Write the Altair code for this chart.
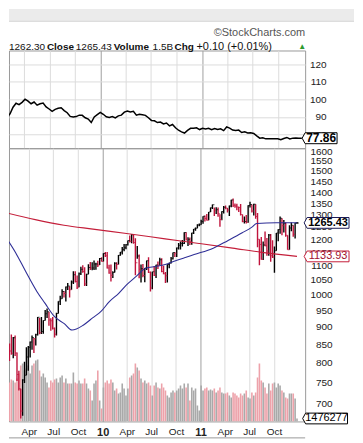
import altair as alt
import numpy as np
import pandas as pd

# ---------------- data ----------------
first_week = "2008-12-29"  # weekly bars, week start (Monday)

high_2009 = [934.7, 943.9, 888.9, 852.5, 877.9, 870.8, 875.0, 827.8, 780.1, 735.1, 758.3, 803.0, 842.6, 845.6,
             858.2, 875.6, 868.3, 880.4, 930.2, 926.6, 930.2, 920.0, 951.7, 956.2, 946.3, 926.0, 930.2, 898.7,
             943.0, 979.4, 996.7, 1018.0, 1012.8, 1027.6, 1039.5, 1028.5, 1048.2, 1080.2, 1080.2, 1065.0, 1076.0,
             1096.6, 1101.4, 1094.0, 1071.5, 1105.4, 1113.7, 1112.4, 1119.1, 1110.7, 1117.7, 1128.1, 1130.4]
low_2009 = [857.3, 883.0, 804.5, 804.9, 821.7, 812.8, 818.4, 754.3, 731.0, 666.8, 672.9, 749.0, 768.5, 779.8,
            814.5, 835.6, 826.8, 847.1, 875.0, 878.9, 879.6, 880.0, 919.1, 926.7, 903.8, 888.9, 893.0, 869.3,
            875.3, 940.4, 966.9, 987.5, 991.0, 978.5, 1016.2, 991.0, 1016.4, 1036.0, 1041.2, 1019.0, 1025.2,
            1066.6, 1074.6, 1029.4, 1029.4, 1069.3, 1085.0, 1083.7, 1085.0, 1085.9, 1095.4, 1102.5, 1115.0]
close_2009 = [931.8, 890.4, 850.1, 832.0, 825.9, 868.6, 826.8, 770.1, 735.1, 683.4, 756.6, 768.5, 815.9, 842.5,
              856.6, 869.6, 866.2, 877.5, 929.2, 882.9, 887.0, 919.1, 940.1, 946.2, 921.2, 918.9, 896.4, 879.1,
              940.4, 979.3, 987.5, 1010.5, 1004.1, 1026.1, 1028.9, 1016.4, 1042.7, 1068.3, 1044.4, 1025.2, 1071.5,
              1087.7, 1079.6, 1036.2, 1069.3, 1093.5, 1091.4, 1091.5, 1106.0, 1106.4, 1102.5, 1126.5, 1115.1]
vol_2009 = [15.0, 20.0, 20.5, 19.5, 21.0, 20.5, 19.5, 21.5, 24.0, 28.0, 29.0, 25.5, 26.5, 28.0, 24.0, 28.0, 29.0,
            30.5, 31.0, 25.5, 22.5, 24.0, 22.0, 19.5, 17.0, 20.5, 19.5, 21.0, 21.5, 19.5, 22.0, 23.0, 19.5, 21.5,
            19.0, 19.0, 19.0, 24.5, 19.5, 19.0, 20.5, 19.0, 19.0, 21.5, 19.0, 16.5, 15.5, 10.5, 19.0, 20.5, 25.5,
            10.5, 6.5]

high_2010 = [1145.4, 1150.4, 1150.5, 1103.7, 1104.7, 1080.0, 1112.4, 1112.4, 1139.0, 1150.2, 1169.8, 1180.7,
             1181.4, 1194.7, 1213.9, 1219.8, 1219.7, 1203.0, 1173.6, 1141.1, 1104.0, 1105.7, 1092.0, 1119.1,
             1131.2, 1078.9, 1078.0, 1099.1, 1103.7, 1115.0, 1129.2, 1127.3, 1100.1, 1077.6, 1105.1, 1110.9,
             1131.5, 1148.9, 1149.9, 1167.7, 1184.4, 1190.2, 1196.1, 1227.1, 1227.1, 1207.4, 1206.5, 1225.6,
             1240.4, 1246.7, 1259.4, 1262.6]
low_2010 = [1115.1, 1131.4, 1090.2, 1071.6, 1044.5, 1056.5, 1075.5, 1086.0, 1104.5, 1136.2, 1141.5, 1152.9,
            1161.2, 1175.2, 1186.8, 1183.6, 1181.6, 1065.8, 1125.0, 1055.9, 1040.8, 1058.9, 1042.2, 1085.0,
            1073.7, 1010.9, 1018.4, 1063.5, 1056.9, 1088.5, 1101.6, 1076.6, 1069.4, 1039.7, 1040.9, 1091.0,
            1108.0, 1122.3, 1131.9, 1131.9, 1159.7, 1159.7, 1171.7, 1181.0, 1194.1, 1173.0, 1176.8, 1177.7,
            1220.0, 1232.9, 1243.9, 1251.5]
close_2010 = [1145.0, 1136.0, 1091.8, 1073.9, 1066.2, 1075.5, 1109.2, 1104.5, 1138.7, 1150.0, 1159.9, 1166.6,
              1178.1, 1194.4, 1192.1, 1217.3, 1186.7, 1110.9, 1135.7, 1087.7, 1089.4, 1064.9, 1091.6, 1117.5,
              1076.8, 1022.6, 1078.0, 1064.9, 1102.7, 1101.6, 1121.6, 1079.3, 1071.7, 1064.6, 1104.5, 1109.6,
              1125.6, 1148.7, 1146.2, 1165.2, 1176.2, 1183.1, 1183.3, 1225.9, 1199.2, 1199.7, 1189.4, 1224.7,
              1240.4, 1243.9, 1256.8, 1257.6]
vol_2010 = [17.0, 19.5, 20.5, 19.0, 21.0, 19.5, 15.5, 16.5, 14.0, 14.5, 19.0, 16.5, 13.0, 16.5, 22.0, 23.0, 24.0,
            29.0, 27.0, 25.5, 21.5, 19.5, 20.5, 19.0, 19.5, 18.0, 13.0, 18.0, 19.5, 17.0, 16.5, 19.0, 17.0, 15.5,
            13.0, 12.0, 14.5, 15.5, 14.5, 15.5, 16.5, 18.0, 16.5, 19.0, 17.0, 19.0, 10.5, 17.0, 15.5, 16.5, 8.0,
            5.5]

high_2011 = [1278.2, 1293.2, 1296.1, 1302.7, 1311.0, 1330.8, 1344.1, 1331.0, 1332.3, 1330.9, 1302.0, 1315.0,
             1337.9, 1339.5, 1328.2, 1339.9, 1364.6, 1370.6, 1348.0, 1346.8, 1334.1, 1345.9, 1300.2, 1292.5,
             1298.6, 1340.3, 1356.5, 1343.8, 1347.0, 1345.0, 1307.4, 1199.4, 1208.5, 1190.7, 1230.7, 1204.4,
             1220.4, 1220.4, 1195.9, 1171.4, 1224.6, 1239.0, 1292.7, 1285.1, 1277.6, 1266.9, 1215.7, 1255.2,
             1267.1, 1255.2, 1265.4, 1269.4]
low_2011 = [1257.6, 1262.2, 1271.3, 1275.1, 1276.3, 1310.9, 1323.9, 1294.7, 1302.6, 1291.0, 1249.1, 1276.7,
            1305.3, 1322.9, 1309.7, 1294.7, 1331.7, 1332.6, 1329.2, 1318.5, 1311.8, 1296.8, 1268.2, 1262.4,
            1262.9, 1265.6, 1331.3, 1309.7, 1295.9, 1282.9, 1168.1, 1101.5, 1122.0, 1121.1, 1172.0, 1136.1,
            1136.2, 1114.2, 1127.7, 1074.8, 1155.5, 1191.5, 1221.1, 1215.4, 1226.6, 1209.4, 1158.7, 1158.7,
            1231.5, 1209.5, 1202.4, 1262.3]
close_2011 = [1271.5, 1293.2, 1283.4, 1276.3, 1310.9, 1329.2, 1343.0, 1319.9, 1321.2, 1304.3, 1279.2, 1313.8,
              1332.4, 1328.2, 1319.7, 1337.4, 1363.6, 1340.2, 1337.8, 1333.3, 1331.1, 1300.2, 1271.0, 1271.5,
              1268.5, 1339.7, 1343.8, 1316.1, 1345.0, 1292.3, 1199.4, 1178.8, 1123.5, 1176.8, 1174.0, 1154.2,
              1216.0, 1136.4, 1131.4, 1155.5, 1224.6, 1238.3, 1285.1, 1253.2, 1263.9, 1215.7, 1158.7, 1244.3,
              1255.2, 1219.7, 1265.3, 1265.43]
vol_2011 = [18.0, 15.5, 16.5, 17.0, 15.5, 16.0, 15.5, 16.5, 14.5, 15.5, 17.0, 14.5, 14.0, 14.0, 14.5, 13.0, 12.0,
            14.5, 14.0, 13.0, 12.0, 14.0, 13.0, 14.0, 15.5, 12.0, 11.5, 14.5, 13.0, 14.5, 22.0, 29.0, 20.5, 19.5,
            17.0, 14.0, 19.0, 15.5, 19.0, 19.5, 17.0, 19.0, 18.0, 15.5, 14.5, 12.0, 11.5, 14.0, 14.0, 14.0, 11.5,
            1.476277]

# upper panel line
rel_start, rel_end = "2009-01-07", "2011-12-26"
rel_vals = [90.6, 89.1, 89.8, 91.8, 95.5, 97.8, 97.0, 98.3, 100.1, 99.0,
            97.5, 98.5, 96.7, 97.5, 97.9, 95.7, 94.5, 93.2, 94.3, 94.9,
            95.2, 93.6, 92.4, 90.3, 90.0, 90.2, 91.0, 90.9, 89.5, 88.8,
            86.8, 90.0, 91.3, 92.6, 91.5, 90.1, 89.7, 90.2, 89.4, 90.6,
            91.0, 92.7, 93.4, 92.8, 93.2, 91.0, 91.5, 91.2, 90.9, 89.5,
            88.0, 87.8, 86.8, 87.1, 86.0, 86.5, 84.9, 85.7, 83.8, 82.4,
            81.5, 80.8, 82.3, 83.5, 83.5, 83.8, 82.8, 83.5, 83.1, 83.5,
            82.7, 83.4, 82.8, 83.2, 82.2, 84.3, 83.6, 82.5, 82.3, 82.5,
            81.1, 81.5, 80.9, 81.0, 80.6, 79.2, 77.9, 78.1, 77.5, 77.6,
            77.5, 77.6, 77.5, 77.0, 77.7, 78.3, 77.4, 77.9, 78.0, 77.9, 77.86]

# moving averages
ma_red_dates = ["2009-01-07", "2009-04-25", "2009-08-10", "2009-11-26", "2010-03-31", "2010-08-22",
                "2010-12-26", "2011-04-30", "2011-08-16", "2011-12-26"]
ma_red_vals = [1308, 1279, 1256, 1240, 1222, 1201, 1183, 1165, 1149, 1133.93]
ma_blue_dates = ["2009-01-07", "2009-02-12", "2009-03-20", "2009-05-01", "2009-05-31", "2009-07-06",
                 "2009-08-11", "2009-09-09", "2009-10-22", "2009-11-26", "2009-12-26", "2010-01-26",
                 "2010-03-02", "2010-03-31", "2010-05-06", "2010-06-11", "2010-07-17", "2010-08-22",
                 "2010-09-27", "2010-11-02", "2010-12-08", "2011-02-17", "2011-04-12", "2011-06-05",
                 "2011-07-11", "2011-07-29", "2011-10-09", "2011-12-26"]
ma_blue_vals = [1205, 1146, 1080, 1011, 973, 931, 910, 891, 906, 928, 947, 978, 1005, 1033, 1062, 1091, 1097,
                1104, 1117, 1129, 1141, 1165, 1194, 1225, 1248, 1263, 1266, 1266]

price_ticks = [700, 750, 800, 850, 900, 950, 1000, 1050, 1100, 1150, 1200, 1250, 1300, 1350, 1400, 1450,
               1500, 1550, 1600]
rel_ticks = [80, 90, 100, 110, 120]
quarters = [(2009, 4), (2009, 7), (2009, 10), (2010, 1), (2010, 4), (2010, 7), (2010, 10),
            (2011, 1), (2011, 4), (2011, 7), (2011, 10)]

# ---------------- tables ----------------
highs = high_2009 + high_2010 + high_2011
lows = low_2009 + low_2010 + low_2011
closes = close_2009 + close_2010 + close_2011
vols = vol_2009 + vol_2010 + vol_2011
weeks = pd.date_range(first_week, periods=len(closes), freq="7D")
price = pd.DataFrame({"date": weeks, "low": lows, "high": highs, "close": closes, "vol": vols})
prev = price["close"].shift(1).fillna(price["close"])
up = price["close"] >= prev
price["pcolor"] = np.where(up, "#000000", "#c0143c")
price["vcolor"] = np.where(up, "#a9a9a9", "#eda2aa")

rel = pd.DataFrame({"date": pd.date_range(rel_start, rel_end, periods=len(rel_vals)), "v": rel_vals})
red = pd.DataFrame({"date": pd.to_datetime(ma_red_dates), "v": ma_red_vals})
blue = pd.DataFrame({"date": pd.to_datetime(ma_blue_dates), "v": ma_blue_vals})
ONE = pd.DataFrame({"k": [0]})

# ---------------- scales / axes ----------------
FONT = "Liberation Sans"
W, HA, HB = 297, 98, 274
RIGHT_EDGE = 346  # keep the whole svg inside the 347px page body
xscale = alt.Scale(domain=[alt.DateTime(year=2009, month=2, date=4, hours=19),
                           alt.DateTime(year=2012, month=1, date=6, hours=19)], nice=False)
qvals = [alt.DateTime(year=y, month=m, date=1) for y, m in quarters]
YEAR = "month(datum.value) == 0"
grid_x = {"condition": {"test": YEAR, "value": "#a0a0a0"}, "value": "#dcdcdc"}

x_axis_top = alt.Axis(values=qvals, labels=False, ticks=False, tickSize=0, domain=False, grid=True,
                      gridColor=grid_x, title=None)
x_axis_bottom = alt.Axis(values=qvals, ticks=False, tickSize=0, domain=False, grid=True, gridColor=grid_x,
                         title=None, labelPadding=5, labelFlush=False, labelOverlap=False,
                         labelExpr="month(datum.value) == 0 ? timeFormat(datum.value, '%y') : timeFormat(datum.value, '%b')",
                         labelFontWeight={"condition": {"test": YEAR, "value": "bold"}, "value": "normal"},
                         labelFontSize={"condition": {"test": YEAR, "value": 11}, "value": 10})

rel_scale = alt.Scale(domain=[72.16, 127.84], nice=False, zero=False)
price_scale = alt.Scale(type="log", domain=[660.7, 1615.8], nice=False, zero=False)
vol_scale = alt.Scale(domain=[0, 137], nice=False, zero=True)

rel_axis = alt.Axis(orient="right", values=rel_ticks, format="d", ticks=False, tickSize=0, domain=False,
                    labelAlign="right", labelPadding=21, labelOverlap=False, labelFlush=False,
                    gridColor="#dcdcdc", title=None)
price_axis = alt.Axis(orient="right", values=price_ticks, format="d", ticks=False, tickSize=0, domain=False,
                      labelAlign="right", labelPadding=27, labelOverlap=False, labelFlush=False,
                      gridColor="#dcdcdc", title=None)

TAG_SMALL = "M-1,0L-0.83,-0.314L1,-0.314L1,0.314L-0.83,0.314Z"
TAG_WIDE = "M-1,0L-0.867,-0.24L1,-0.24L1,0.24L-0.867,0.24Z"


def tag(df, yenc, cx, path, size, stroke, label, weight, color, fs):
    box = alt.Chart(df).mark_point(shape=path, size=size, filled=True, fill="white", stroke=stroke,
                                   strokeWidth=1, opacity=1).encode(x=alt.value(cx), y=yenc)
    txt = alt.Chart(df).mark_text(text=label, font=FONT, fontSize=fs, fontWeight=weight, color=color,
                                  align="center", baseline="middle").encode(x=alt.value(cx + 1.5), y=yenc)
    return [box, txt]


def header_text(txt, x, weight="normal", size=10, color="#111111"):
    return alt.Chart(ONE).mark_text(text=txt, font=FONT, fontSize=size, fontWeight=weight, color=color,
                                    align="left", baseline="middle").encode(x=alt.value(x), y=alt.value(-4))


# ---------------- upper panel ----------------
XA = alt.X("date:T", scale=xscale, axis=x_axis_top)
YA = lambda f: alt.Y(f, scale=rel_scale, axis=rel_axis)

band = alt.Chart(ONE).mark_rect(color="#ebebeb").encode(
    x=alt.value(0), x2=alt.value(RIGHT_EDGE), y=alt.value(-41.5), y2=alt.value(-30.5))
band_line = alt.Chart(ONE).mark_rule(color="#c4c4c4").encode(
    x=alt.value(0), x2=alt.value(RIGHT_EDGE), y=alt.value(-29.5))
brand = alt.Chart(ONE).mark_text(text="\u00a9StockCharts.com", font=FONT, fontSize=11, color="#555555",
                                 align="right", baseline="middle").encode(x=alt.value(297), y=alt.value(-17.5))
heads = [
    header_text("1262.30", 0),
    header_text("Close", 38, "bold"),
    header_text("1265.43", 67),
    header_text("Volume", 105, "bold"),
    header_text("1.5B", 144),
    header_text("Chg", 166, "bold"),
    header_text("+0.10 (+0.01%)", 188, size=11),
    header_text("\u25b2", 290, size=8, color="#2e9a2e"),
]
rel_line = alt.Chart(rel).mark_line(color="#000000", strokeWidth=1.5, clip=True).encode(x=XA, y=YA("v:Q"))
rel_tag = tag(rel.tail(1), YA("v:Q"), 311.5, TAG_SMALL, 1225, "#000000", "77.86", "bold", "#000000", 12)

panel_a = alt.layer(band, band_line, brand, *heads, rel_line, *rel_tag).properties(width=W, height=HA)

# ---------------- price / volume panel ----------------
XB = alt.X("date:T", scale=xscale, axis=x_axis_bottom)
VY = lambda f: alt.Y(f, scale=vol_scale, axis=None)
PY = lambda f: alt.Y(f, scale=price_scale, axis=price_axis)

vol_bars = alt.Chart(price).mark_bar(size=1.6, clip=True).encode(
    x=XB, y=VY("vol:Q"), color=alt.Color("vcolor:N", scale=None))
vol_tag = tag(price.tail(1), VY("vol:Q"), 317, TAG_WIDE, 2025, "#000000", "1476277", "normal", "#000000", 11)
vol_layer = alt.layer(vol_bars, *vol_tag)

bars = alt.Chart(price).mark_rule(strokeWidth=1.4, clip=True).encode(
    x=XB, y=PY("low:Q"), y2="high:Q", color=alt.Color("pcolor:N", scale=None))
ticks = alt.Chart(price).mark_tick(orient="horizontal", size=2, thickness=1, xOffset=1, clip=True).encode(
    x=XB, y=PY("close:Q"), color=alt.Color("pcolor:N", scale=None))
red_line = alt.Chart(red).mark_line(color="#c41e3a", strokeWidth=1.1, clip=True, interpolate="monotone").encode(
    x=XB, y=PY("v:Q"))
blue_line = alt.Chart(blue).mark_line(color="#2e2e96", strokeWidth=1.1, clip=True, interpolate="monotone").encode(
    x=XB, y=PY("v:Q"))
close_tag = tag(price.tail(1), PY("close:Q"), 318.5, TAG_WIDE, 2025, "#1a1a55", "1265.43", "bold",
                "#000000", 11)
red_tag = tag(red.tail(1), PY("v:Q"), 318.5, TAG_WIDE, 2025, "#c41e3a", "1133.93", "normal", "#a0102e", 11)
price_layer = alt.layer(bars, ticks, red_line, blue_line, *red_tag, *close_tag)

next_panel = alt.Chart(ONE).mark_rule(color="#9a9a9a").encode(
    x=alt.value(0), x2=alt.value(297), y=alt.value(290.5))

panel_b = alt.layer(vol_layer, price_layer, next_panel).resolve_scale(y="independent").properties(
    width=W, height=HB)

chart = alt.vconcat(panel_a, panel_b, spacing=0, bounds="flush").properties(
    padding=0, background="white"
).configure_view(stroke="#9a9a9a", strokeWidth=1).configure_axis(
    labelFont=FONT, labelFontSize=10, labelColor="#222222", gridWidth=1
)

chart.save("out.html", embed_options={"renderer": "svg", "actions": False})
